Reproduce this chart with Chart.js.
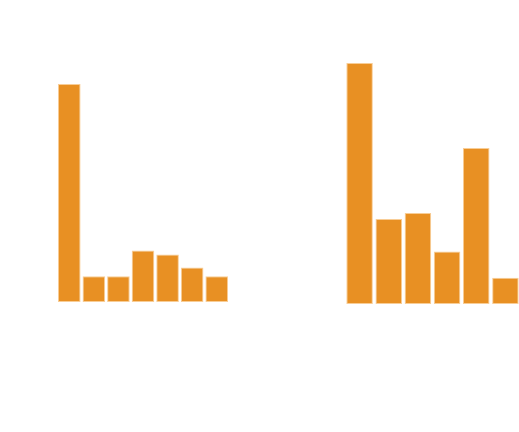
<!DOCTYPE html>
<html>
<head>
<meta charset="utf-8">
<script src="https://cdn.jsdelivr.net/npm/chart.js@4"></script>
<style>
  html, body { margin: 0; padding: 0; width: 519px; height: 432px; overflow: hidden; background: #ffffff; }
  canvas { position: absolute; }
  #left { left: 57px; top: 84px; }
  #right { left: 345px; top: 63px; }
</style>
</head>
<body>
<canvas id="left" width="172" height="218"></canvas>
<canvas id="right" width="175" height="241"></canvas>
<script>
const leftCategories = ["A", "B", "C", "D", "E", "F", "G"];
const leftValues = [8.46, 1, 1, 2, 1.84, 1.34, 1];
const rightCategories = ["A", "B", "C", "D", "E", "F"];
const rightValues = [9.16, 3.23, 3.46, 2.0, 5.93, 1.0];

function makeChart(id, labels, values, barPct) {
  new Chart(document.getElementById(id), {
    type: 'bar',
    data: {
      labels: labels,
      datasets: [{
        data: values,
        backgroundColor: '#E89023',
        borderColor: 'rgba(248,205,150,1)',
        borderWidth: 1,
        borderSkipped: false,
        categoryPercentage: 1,
        barPercentage: barPct
      }]
    },
    options: {
      responsive: false,
      animation: false,
      devicePixelRatio: 1,
      layout: { padding: 0 },
      plugins: { legend: { display: false }, tooltip: { enabled: false } },
      scales: {
        x: { display: false },
        y: { display: false, min: 0, max: Math.max(...values) }
      }
    }
  });
}
makeChart('left', leftCategories, leftValues, 0.92);
makeChart('right', rightCategories, rightValues, 0.91);
</script>
</body>
</html>
